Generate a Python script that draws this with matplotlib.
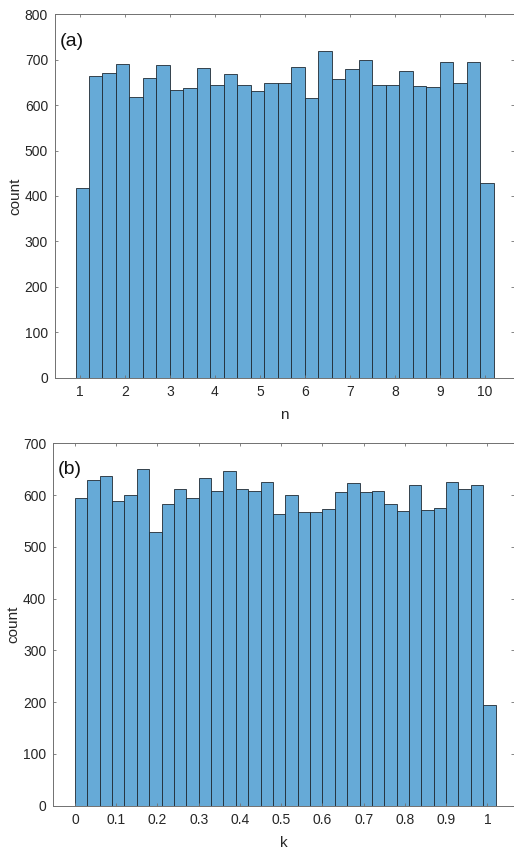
#Histograms of the sampled parameters n and k

import numpy as np
import matplotlib
matplotlib.use('Agg')
import matplotlib.pyplot as plt

#Counts per bin for n (bins of 0.3 starting at 0.9)
n_start=0.9
n_width=0.3
n_counts=[418,665,671,690,617,660,689,633,637,682,644,669,644,631,648,648,
	685,615,719,657,679,699,645,644,675,643,639,694,648,694,428]

#Counts per bin for k (bins of 0.03 starting at 0)
k_start=0.0
k_width=0.03
k_counts=[595,629,637,589,601,651,529,582,611,594,632,608,646,611,608,626,563,
	601,567,567,573,606,623,606,607,583,569,619,572,575,626,612,620,195]

n_ticks=[1,2,3,4,5,6,7,8,9,10]
k_ticks=[0,0.1,0.2,0.3,0.4,0.5,0.6,0.7,0.8,0.9,1]
k_ticklabels=['0','0.1','0.2','0.3','0.4','0.5','0.6','0.7','0.8','0.9','1']

barcolor='#66aad7'
axcolor='#262626'
linecolor='#707070'

plt.rcParams['font.family']=['Liberation Sans','DejaVu Sans']
plt.rcParams['font.size']=10


#Draw one MATLAB-looking histogram panel
def histpanel(ax, start, width, counts, xlim, ylim, yticks, xlabel, tag, tagy):
	edges=start+width*np.arange(len(counts))
	ax.bar(edges, counts, width=width, align='edge', color=barcolor,
		edgecolor='#1f2a33', linewidth=0.6)
	ax.set_xlim(xlim)
	ax.set_ylim(ylim)
	ax.set_yticks(yticks)
	for s in ax.spines.values():
		s.set_color(linecolor)
		s.set_linewidth(0.7)
	ax.tick_params(direction='in', length=2.5, width=0.6, color=linecolor,
		labelcolor=axcolor, top=True, right=True, labelsize=10, pad=5)
	ax.set_xlabel(xlabel, fontsize=11, color=axcolor, labelpad=6.5)
	ax.set_ylabel('count', fontsize=11, color=axcolor, labelpad=2)
	ax.text(0.0094, tagy, tag, transform=ax.transAxes, fontsize=14,
		color='#111111', ha='left', va='center')


fig=plt.figure(figsize=(5.14,8.51), dpi=100)

ax1=fig.add_axes([0.107,0.5562,0.8925,0.427])
histpanel(ax1, n_start, n_width, n_counts, (0.444,10.644), (0,800),
	np.arange(0,801,100), 'n', '(a)', 0.9265)
ax1.set_xticks(n_ticks)

ax2=fig.add_axes([0.1037,0.0532,0.8958,0.4259])
histpanel(ax2, k_start, k_width, k_counts, (-0.0526,1.064), (0,700),
	np.arange(0,701,100), 'k', '(b)', 0.9285)
ax2.set_xticks(k_ticks)
ax2.set_xticklabels(k_ticklabels)

plt.savefig('out.png', dpi=100)
